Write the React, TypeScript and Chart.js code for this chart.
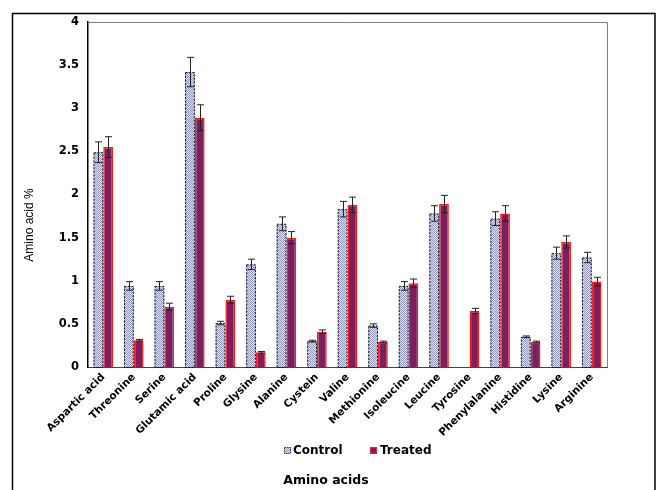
import React, { useEffect, useRef } from "react";
import { Chart, registerables } from "chart.js";

Chart.register(...registerables);

const categories = [
  "Aspartic acid", "Threonine", "Serine", "Glutamic acid", "Proline", "Glysine",
  "Alanine", "Cystein", "Valine", "Methionine", "Isoleucine", "Leucine",
  "Tyrosine", "Phenylalanine", "Histidine", "Lysine", "Arginine",
];
const controlValues = [2.49, 0.94, 0.94, 3.42, 0.51, 1.19, 1.66, 0.30, 1.83, 0.48, 0.94, 1.78, 0, 1.72, 0.35, 1.32, 1.27];
const controlErrors = [0.12, 0.05, 0.05, 0.17, 0.02, 0.06, 0.08, 0.01, 0.09, 0.02, 0.05, 0.09, 0, 0.08, 0.01, 0.07, 0.06];
const treatedValues = [2.55, 0.31, 0.70, 2.89, 0.78, 0.17, 1.50, 0.41, 1.88, 0.29, 0.97, 1.89, 0.65, 1.78, 0.29, 1.45, 0.99];
const treatedErrors = [0.12, 0.01, 0.04, 0.15, 0.04, 0.01, 0.07, 0.02, 0.09, 0.01, 0.05, 0.10, 0.03, 0.09, 0.01, 0.07, 0.05];
const seriesNames = ["Control", "Treated"];
const yAxisTitle = "Amino acid %";
const xAxisTitle = "Amino acids";

const TREATED_FILL = "#7b1f5f";
const TREATED_BORDER = "#ff1a1a";

function makePattern(): CanvasPattern | string {
  const c = document.createElement("canvas");
  c.width = 2;
  c.height = 2;
  const g = c.getContext("2d");
  if (!g) return "#bcbfd9";
  g.fillStyle = "#dcdef0";
  g.fillRect(0, 0, 2, 2);
  g.fillStyle = "#969abd";
  g.fillRect(0, 0, 1, 1);
  g.fillRect(1, 1, 1, 1);
  const p = g.createPattern(c, "repeat");
  return p || "#bcbfd9";
}

export default function App() {
  const ref = useRef<HTMLCanvasElement | null>(null);

  useEffect(() => {
    if (!ref.current) return;
    const pattern = makePattern();
    const errors = [controlErrors, treatedErrors];

    const decor = {
      id: "decor",
      afterDatasetsDraw(chart: any) {
        const ctx = chart.ctx;
        const area = chart.chartArea;
        const yScale = chart.scales.y;
        ctx.save();
        const m0 = chart.getDatasetMeta(0);
        ctx.strokeStyle = "#111";
        ctx.lineWidth = 1;
        ctx.setLineDash([2, 1.5]);
        m0.data.forEach((bar: any, i: number) => {
          if (!controlValues[i]) return;
          const { x, y, base, width } = bar.getProps(["x", "y", "base", "width"], true);
          ctx.strokeRect(x - width / 2 + 0.5, y + 0.5, width - 1, base - y);
        });
        ctx.setLineDash([]);
        ctx.strokeStyle = "#222";
        ctx.lineWidth = 1;
        [0, 1].forEach((di) => {
          const meta = chart.getDatasetMeta(di);
          const vals = di === 0 ? controlValues : treatedValues;
          meta.data.forEach((bar: any, i: number) => {
            const e = errors[di][i];
            if (!vals[i] || !e) return;
            const x = Math.round(bar.x) + 0.5;
            const yt = yScale.getPixelForValue(vals[i] + e);
            const yb = yScale.getPixelForValue(vals[i] - e);
            ctx.beginPath();
            ctx.moveTo(x, yt);
            ctx.lineTo(x, yb);
            ctx.moveTo(x - 3.5, yt);
            ctx.lineTo(x + 3.5, yt);
            ctx.moveTo(x - 3.5, yb);
            ctx.lineTo(x + 3.5, yb);
            ctx.stroke();
          });
        });
        ctx.strokeStyle = "#808080";
        ctx.lineWidth = 1;
        ctx.beginPath();
        ctx.moveTo(area.left, area.top + 0.5);
        ctx.lineTo(area.right + 0.5, area.top + 0.5);
        ctx.lineTo(area.right + 0.5, area.bottom);
        ctx.stroke();
        ctx.restore();
      },
      afterDraw(chart: any) {
        const ctx = chart.ctx;
        ctx.save();
        ctx.strokeStyle = "#000";
        ctx.lineWidth = 1.5;
        ctx.strokeRect(12.5, 13.5, 642.5, 490);
        ctx.fillStyle = "#000";
        ctx.font = "12px 'Liberation Sans', Arial, sans-serif";
        ctx.textAlign = "center";
        ctx.textBaseline = "middle";
        ctx.save();
        ctx.translate(30, 225);
        ctx.rotate(-Math.PI / 2);
        ctx.fillText(yAxisTitle, 0, 0);
        ctx.restore();
        ctx.font = "bold 12px 'DejaVu Sans', sans-serif";
        ctx.textAlign = "left";
        ctx.fillStyle = pattern as any;
        ctx.fillRect(284, 447, 7, 7);
        ctx.strokeStyle = "#333";
        ctx.lineWidth = 1;
        ctx.setLineDash([1.5, 1]);
        ctx.strokeRect(284.5, 447.5, 6, 6);
        ctx.setLineDash([]);
        ctx.fillStyle = "#000";
        ctx.fillText(seriesNames[0], 293, 451);
        ctx.fillStyle = TREATED_FILL;
        ctx.fillRect(370, 447, 7, 7);
        ctx.strokeStyle = TREATED_BORDER;
        ctx.strokeRect(370.5, 447.5, 6, 6);
        ctx.fillStyle = "#000";
        ctx.fillText(seriesNames[1], 380, 451);
        ctx.textAlign = "center";
        ctx.font = "bold 12.5px 'DejaVu Sans', sans-serif";
        ctx.fillText(xAxisTitle, 326, 481);
        ctx.restore();
      },
    };

    const chart = new Chart(ref.current, {
      type: "bar",
      data: {
        labels: categories,
        datasets: [
          {
            label: seriesNames[0],
            data: controlValues,
            backgroundColor: pattern as any,
            borderWidth: 0,
            categoryPercentage: 0.64,
            barPercentage: 1,
          },
          {
            label: seriesNames[1],
            data: treatedValues,
            backgroundColor: TREATED_FILL,
            borderColor: TREATED_BORDER,
            borderWidth: 1.5,
            categoryPercentage: 0.64,
            barPercentage: 1,
          },
        ],
      },
      options: {
        responsive: false,
        animation: false,
        devicePixelRatio: 1,
        layout: { padding: { top: 22, right: 50, left: 0, bottom: 0 } },
        plugins: {
          legend: { display: false },
          tooltip: { enabled: false },
          title: { display: false },
        },
        scales: {
          x: {
            grid: { display: false, drawTicks: false },
            border: { display: true, color: "#444", width: 1 },
            ticks: {
              autoSkip: false,
              maxRotation: 45,
              minRotation: 45,
              padding: 4,
              color: "#000",
              font: { family: "'DejaVu Sans', sans-serif", weight: "bold", size: 10.5 },
            },
            afterFit: (s: any) => {
              s.height = 123;
            },
          },
          y: {
            min: 0,
            max: 4,
            grid: { display: false, drawTicks: false },
            border: { display: true, color: "#000", width: 1.5 },
            ticks: {
              stepSize: 0.5,
              padding: 9,
              color: "#000",
              font: { family: "'DejaVu Sans', sans-serif", weight: "bold", size: 11.5 },
              callback: (v: any) => String(v),
            },
            afterFit: (s: any) => {
              s.width = 88;
            },
          },
        },
      },
      plugins: [decor],
    });
    return () => chart.destroy();
  }, []);

  return (
    <div style={{ position: "absolute", left: 0, top: 0, width: 657, height: 490, background: "#fff" }}>
      <canvas ref={ref} width={657} height={490} style={{ display: "block" }} />
    </div>
  );
}
